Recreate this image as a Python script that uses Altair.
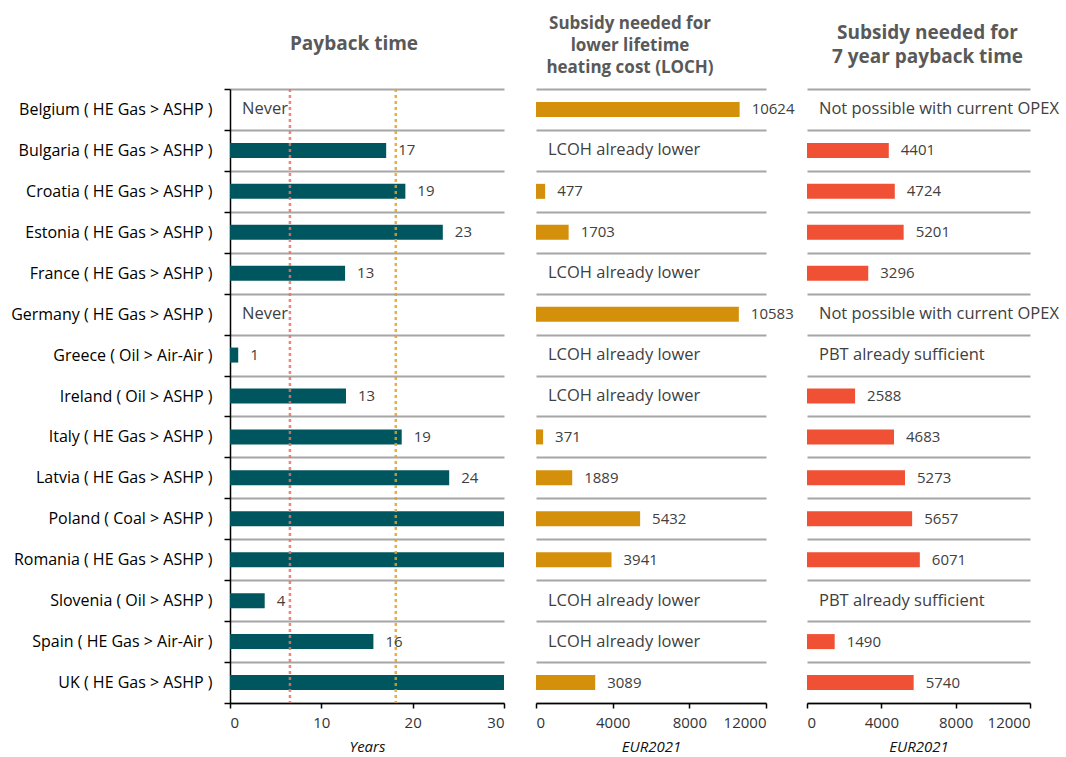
import altair as alt
import pandas as pd

countries = [
    "Belgium ( HE Gas > ASHP )",
    "Bulgaria ( HE Gas > ASHP )",
    "Croatia ( HE Gas > ASHP )",
    "Estonia ( HE Gas > ASHP )",
    "France ( HE Gas > ASHP )",
    "Germany ( HE Gas > ASHP )",
    "Greece ( Oil > Air-Air )",
    "Ireland ( Oil > ASHP )",
    "Italy ( HE Gas > ASHP )",
    "Latvia ( HE Gas > ASHP )",
    "Poland ( Coal > ASHP )",
    "Romania ( HE Gas > ASHP )",
    "Slovenia ( Oil > ASHP )",
    "Spain ( HE Gas > Air-Air )",
    "UK ( HE Gas > ASHP )",
]

# Payback time in years (bars capped at 30 on the axis)
payback_years = [None, 17.1, 19.2, 23.3, 12.6, None, 0.9, 12.7, 18.8, 24.0, 30, 30, 3.8, 15.7, 30]
payback_labels = ["Never", "17", "19", "23", "13", "Never", "1", "13", "19", "24", "", "", "4", "16", ""]

# Subsidy needed for lower lifetime heating cost (EUR2021)
loch_subsidy = [10624, None, 477, 1703, None, 10583, None, None, 371, 1889, 5432, 3941, None, None, 3089]
loch_labels = ["10624", "LCOH already lower", "477", "1703", "LCOH already lower", "10583",
               "LCOH already lower", "LCOH already lower", "371", "1889", "5432", "3941",
               "LCOH already lower", "LCOH already lower", "3089"]

# Subsidy needed for 7 year payback time (EUR2021)
pbt_subsidy = [None, 4401, 4724, 5201, 3296, None, None, 2588, 4683, 5273, 5657, 6071, None, 1490, 5740]
pbt_labels = ["Not possible with current OPEX", "4401", "4724", "5201", "3296",
              "Not possible with current OPEX", "PBT already sufficient", "2588", "4683", "5273",
              "5657", "6071", "PBT already sufficient", "1490", "5740"]

# Reference payback lines (years)
reference_lines = [6.56, 18.15]
reference_colors = ["#F0705F", "#E5A11E"]

payback_ticks = [0, 10, 20, 30]
eur_ticks = [0, 4000, 8000, 12000]

TEAL = "#00565E"
GOLD = "#D4900A"
RED = "#F05034"
GRID = "#A6A6A6"
FONT = "Open Sans"

ROW_H = 614
BAR = 15


def make_df(values, labels):
    kinds = []
    pos = []
    for v, lab in zip(values, labels):
        if lab == "":
            kinds.append("none")
        elif lab.replace(".", "").isdigit():
            kinds.append("num")
        else:
            kinds.append("note")
        pos.append(0 if v is None else v)
    return pd.DataFrame({
        "country": countries,
        "value": values,
        "pos": pos,
        "label": labels,
        "kind": kinds,
    })


def x_axis(title, ticks):
    return alt.Axis(
        values=ticks, title=title, grid=False, format="d",
        titleFont=FONT, titleFontStyle="italic", titleFontWeight="normal",
        titleFontSize=15, titleColor="#111111", titlePadding=9,
        labelFont=FONT, labelFontSize=15, labelColor="#333333", labelPadding=7,
        tickColor="#000000", tickSize=5, tickWidth=1.5,
        domainColor="#000000", domainWidth=1.5,
    )


def panel(values, labels, color, domain, ticks, xtitle, yaxis, width, title, extra=None):
    df = make_df(values, labels)
    xs = alt.Scale(domain=domain, nice=False, zero=True)
    ys = alt.Scale(paddingInner=0, paddingOuter=0)
    xa = x_axis(xtitle, ticks)
    base = alt.Chart(df)
    bars = base.mark_bar(size=BAR, color=color).encode(
        x=alt.X("value:Q", scale=xs, axis=xa),
        y=alt.Y("country:N", sort=countries, scale=ys, axis=yaxis),
    )
    nums = base.transform_filter("datum.kind == 'num'").mark_text(
        align="left", baseline="middle", dx=12, font=FONT, fontSize=15, color="#404040"
    ).encode(
        x=alt.X("pos:Q", scale=xs, axis=xa),
        y=alt.Y("country:N", sort=countries, scale=ys, axis=yaxis),
        text="label:N",
    )
    notes = base.transform_filter("datum.kind == 'note'").mark_text(
        align="left", baseline="middle", dx=12, font=FONT, fontSize=16.5, color="#404040"
    ).encode(
        x=alt.X("pos:Q", scale=xs, axis=xa),
        y=alt.Y("country:N", sort=countries, scale=ys, axis=yaxis),
        text="label:N",
    )
    layers = [bars]
    if extra is not None:
        layers.append(extra(xs, xa))
    layers += [nums, notes]
    return alt.layer(*layers).properties(width=width, height=ROW_H, title=title)


def payback_rules(xs, xa):
    rdf = pd.DataFrame({"x": reference_lines, "color": reference_colors})
    return alt.Chart(rdf).mark_rule(strokeDash=[3, 3], strokeWidth=2.5, opacity=0.85).encode(
        x=alt.X("x:Q", scale=xs, axis=xa),
        color=alt.Color("color:N", scale=None),
    )


y_axis_main = alt.Axis(
    title=None, labelFont=FONT, labelFontSize=16, labelColor="#000000",
    labelPadding=12, labelLimit=400, tickBand="extent", tickSize=6,
    tickColor="#000000", tickWidth=1.5, domainColor="#000000", domainWidth=1.5,
    grid=True, gridColor=GRID, gridWidth=2,
)
y_axis_mid = alt.Axis(
    title=None, labels=False, domain=False, ticks=True, tickOpacity=0, tickSize=20,
    tickBand="extent", grid=True, gridColor=GRID, gridWidth=2,
)
y_axis_right = alt.Axis(
    title=None, labels=False, domain=False, ticks=False,
    tickBand="extent", grid=True, gridColor=GRID, gridWidth=2,
)

title1 = alt.TitleParams(
    text="Payback time", font=FONT, fontSize=19, fontWeight="bold", color="#595959",
    anchor="middle", frame="group", baseline="alphabetic", offset=12, dx=-13,
)
title2 = alt.TitleParams(
    text=["Subsidy needed for", "lower lifetime", "heating cost (LOCH)"], font=FONT,
    fontSize=17, fontWeight="bold", color="#595959", lineHeight=22,
    anchor="middle", frame="group", baseline="alphabetic", offset=-1, dx=-21,
)
title3 = alt.TitleParams(
    text=["Subsidy needed for", "7 year payback time"], font=FONT,
    fontSize=19, fontWeight="bold", color="#595959", lineHeight=24,
    anchor="middle", frame="group", baseline="alphabetic", offset=7, dx=9,
)

p1 = panel(payback_years, payback_labels, TEAL, [0, 30], payback_ticks, "Years",
           y_axis_main, 274, title1, extra=payback_rules)
p2 = panel(loch_subsidy, loch_labels, GOLD, [0, 12000], eur_ticks, "EUR2021",
           y_axis_mid, 230, title2)
p3 = panel(pbt_subsidy, pbt_labels, RED, [0, 12000], eur_ticks, "EUR2021",
           y_axis_right, 223, title3)

chart = alt.hconcat(p1, p2, p3, spacing=11).properties(
    padding={"left": 10, "top": 15, "right": 2, "bottom": 0},
    background="white",
).configure_view(stroke=None)

chart.save("out.html", embed_options={"renderer": "svg", "actions": False})
